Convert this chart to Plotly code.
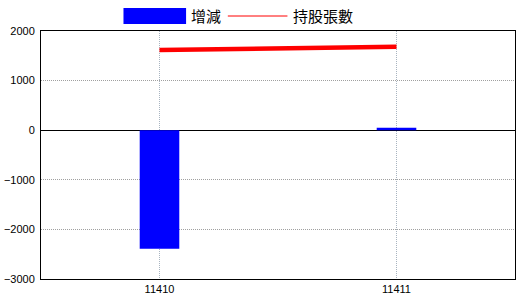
import plotly.graph_objects as go

categories = ["11410", "11411"]
change_values = [-2390, 50]
holding_values = [1615, 1680]
y_ticks = [-3000, -2000, -1000, 0, 1000, 2000]
legend_names = ["增減", "持股張數"]

W, H = 520, 300
L, R, T, B = 39, 4, 31, 21
pw, ph = W - L - R, H - T - B

def px(x):
    return (x - L) / pw

def py(y):
    return (H - B - y) / ph

fig = go.Figure()
fig.add_trace(go.Bar(x=categories, y=change_values, name=legend_names[0],
                     marker=dict(color="#0000ff", line=dict(width=0)), width=0.167))
fig.add_trace(go.Scatter(x=categories, y=holding_values, name=legend_names[1],
                         mode="lines", line=dict(color="#ff0000", width=4.5)))

fig.update_layout(
    width=W, height=H,
    margin=dict(l=L, r=R, t=T, b=B),
    paper_bgcolor="white", plot_bgcolor="white",
    showlegend=False,
    font=dict(family="Liberation Sans", size=11, color="black"),
    xaxis=dict(type="category", range=[-0.5, 1.5], showgrid=True,
               gridcolor="#a8b4c0", griddash="1px,1px", gridwidth=1,
               showline=True, linecolor="black", linewidth=1, mirror=True,
               ticks="", tickfont=dict(size=11)),
    yaxis=dict(range=[-3000, 2000], tickvals=y_ticks, showgrid=True,
               gridcolor="#a0a0a0", griddash="1px,1px", gridwidth=1,
               zeroline=True, zerolinecolor="black", zerolinewidth=1,
               showline=True, linecolor="black", linewidth=1, mirror=True,
               ticks="", ticklabelstandoff=3, tickfont=dict(size=11)),
    shapes=[
        dict(type="rect", xref="paper", yref="paper", x0=px(122), x1=px(185),
             y0=py(24), y1=py(8), fillcolor="#0000ff", line=dict(width=0)),
        dict(type="line", xref="paper", yref="paper", x0=px(227), x1=px(287),
             y0=py(16), y1=py(16), line=dict(color="#ff0000", width=1)),
    ],
    annotations=[
        dict(text=legend_names[0], xref="paper", yref="paper", x=px(188), y=py(16),
             xanchor="left", yanchor="middle", showarrow=False,
             font=dict(family="Noto Sans CJK TC", size=15, color="black")),
        dict(text=legend_names[1], xref="paper", yref="paper", x=px(291), y=py(16),
             xanchor="left", yanchor="middle", showarrow=False,
             font=dict(family="Noto Sans CJK TC", size=15, color="black")),
    ],
)

fig.write_html("out.html")
